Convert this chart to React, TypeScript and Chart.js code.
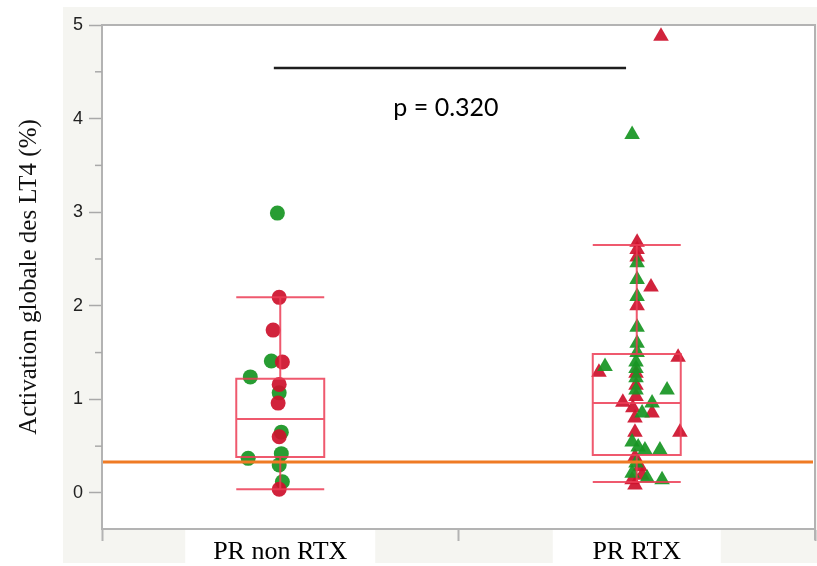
import React, { useEffect, useRef } from 'react';
import { Chart, registerables } from 'chart.js';
Chart.register(...registerables);

const categories = ['PR non RTX', 'PR RTX'];
const yTicks = [0, 1, 2, 3, 4, 5];
const yMinorTicks = [0.5, 1.5, 2.5, 3.5, 4.5];
const yMin = -0.385;
const yMax = 5;
const yTitle = 'Activation globale des LT4 (%)';

// PR non RTX (circles)
const nonRtxGreenValues = [2.99, 1.41, 1.24, 1.07, 0.65, 0.42, 0.37, 0.3, 0.12];
const nonRtxGreenJitter = [-0.008, -0.025, -0.084, -0.003, 0.003, 0.003, -0.09, -0.003, 0.006];
const nonRtxRedValues = [2.09, 1.74, 1.4, 1.16, 0.96, 0.6, 0.04];
const nonRtxRedJitter = [-0.003, -0.02, 0.006, -0.003, -0.006, -0.003, -0.003];

// PR RTX (triangles)
const rtxRedValues = [4.88, 2.68, 2.6, 2.52, 2.2, 2.0, 1.45, 1.29, 1.28, 1.15, 1.03, 0.97, 0.91, 0.855, 0.8, 0.65, 0.65, 0.385, 0.28, 0.19, 0.14, 0.085];
const rtxRedJitter = [0.068, 0.001, 0.001, 0.001, 0.04, 0.001, 0.116, -0.106, -0.002, -0.002, -0.002, -0.039, -0.011, 0.043, -0.005, -0.005, 0.121, -0.005, 0.009, 0.015, -0.013, -0.005];
const rtxGreenValues = [3.83, 2.46, 2.28, 2.1, 1.77, 1.6, 1.5, 1.4, 1.35, 1.33, 1.23, 1.1, 1.1, 0.96, 0.855, 0.545, 0.49, 0.46, 0.46, 0.32, 0.21, 0.16, 0.14];
const rtxGreenJitter = [-0.013, 0.001, 0.001, 0.001, 0.001, 0.001, 0.001, -0.002, -0.089, -0.002, -0.002, -0.002, 0.085, 0.043, 0.015, -0.013, 0.004, 0.023, 0.065, -0.002, -0.013, 0.029, 0.071];

// Box plot statistics per category
const boxLow = [0.04, 0.118];
const boxQ1 = [0.385, 0.405];
const boxMedian = [0.79, 0.96];
const boxQ3 = [1.22, 1.485];
const boxHigh = [2.09, 2.65];

const referenceValue = 0.33;
const sigBarValue = 4.54;
const sigBarFrom = 0.482;
const sigBarTo = 1.47;
const pLabel = 'p = 0.320';

const RED = 'rgba(205, 18, 45, 0.93)';
const GREEN = 'rgba(24, 150, 36, 0.93)';
const BOX = 'rgba(236, 60, 85, 0.85)';
const AXIS_GRAY = '#b3b3b3';

const toPoints = (vals: number[], jit: number[], cat: number) =>
  vals.map((v, i) => ({ x: cat + 0.5 + jit[i], y: v }));

const decorPlugin = {
  id: 'decor',
  beforeDraw(chart: any) {
    const { ctx, chartArea: a, width, height } = chart;
    ctx.save();
    ctx.fillStyle = '#ffffff';
    ctx.fillRect(0, 0, width, height);
    ctx.fillStyle = '#f5f5f1';
    ctx.fillRect(63, 7, width - 63, 556);
    ctx.fillStyle = '#ffffff';
    ctx.fillRect(a.left, a.top, a.right - a.left, a.bottom - a.top);
    // white label panels
    const xs = chart.scales.x;
    [0, 1].forEach((c) => {
      const cx = xs.getPixelForValue(c + 0.5);
      const hw = c === 0 ? 95 : 84;
      ctx.fillRect(cx - hw, a.bottom + 1, hw * 2, height - a.bottom);
    });
    ctx.restore();
  },
  afterDatasetsDraw(chart: any) {
    const { ctx, chartArea: a } = chart;
    const xs = chart.scales.x;
    const ys = chart.scales.y;
    ctx.save();
    // box plots
    const half = 0.1234;
    ctx.strokeStyle = BOX;
    ctx.lineWidth = 2;
    for (let c = 0; c < categories.length; c++) {
      const cx = xs.getPixelForValue(c + 0.5);
      const l = xs.getPixelForValue(c + 0.5 - half);
      const r = xs.getPixelForValue(c + 0.5 + half);
      const q1 = ys.getPixelForValue(boxQ1[c]);
      const q3 = ys.getPixelForValue(boxQ3[c]);
      const md = ys.getPixelForValue(boxMedian[c]);
      const lo = ys.getPixelForValue(boxLow[c]);
      const hi = ys.getPixelForValue(boxHigh[c]);
      ctx.beginPath();
      ctx.rect(l, q3, r - l, q1 - q3);
      ctx.moveTo(l, md); ctx.lineTo(r, md);
      ctx.moveTo(cx, q3); ctx.lineTo(cx, hi);
      ctx.moveTo(cx, q1); ctx.lineTo(cx, lo);
      ctx.moveTo(l, hi); ctx.lineTo(r, hi);
      ctx.moveTo(l, lo); ctx.lineTo(r, lo);
      ctx.stroke();
    }
    // reference line
    const ry = ys.getPixelForValue(referenceValue);
    ctx.strokeStyle = '#ef7b24';
    ctx.lineWidth = 3;
    ctx.beginPath();
    ctx.moveTo(a.left + 1, ry);
    ctx.lineTo(a.right - 2, ry);
    ctx.stroke();
    // frame top/right
    ctx.strokeStyle = AXIS_GRAY;
    ctx.lineWidth = 2;
    ctx.beginPath();
    ctx.moveTo(a.left, a.top);
    ctx.lineTo(a.right, a.top);
    ctx.lineTo(a.right, a.bottom + 11);
    ctx.stroke();
    // minor ticks
    ctx.lineWidth = 1.5;
    ctx.strokeStyle = '#a9a9a9';
    yMinorTicks.forEach((v) => {
      const py = ys.getPixelForValue(v);
      ctx.beginPath();
      ctx.moveTo(a.left - 7, py);
      ctx.lineTo(a.left, py);
      ctx.stroke();
    });
    // significance bar
    const by = ys.getPixelForValue(sigBarValue);
    const bx1 = xs.getPixelForValue(sigBarFrom);
    const bx2 = xs.getPixelForValue(sigBarTo);
    ctx.strokeStyle = '#1e1e1e';
    ctx.lineWidth = 2.5;
    ctx.beginPath();
    ctx.moveTo(bx1, by);
    ctx.lineTo(bx2, by);
    ctx.stroke();
    ctx.fillStyle = '#000';
    ctx.font = '25px Lato, "Open Sans", sans-serif';
    ctx.textAlign = 'center';
    ctx.textBaseline = 'middle';
    ctx.fillText(pLabel, (bx1 + bx2) / 2 - 4, by + 40);
    ctx.restore();
  },
};

export default function App() {
  const ref = useRef<HTMLCanvasElement | null>(null);
  useEffect(() => {
    if (!ref.current) return;
    const chart = new Chart(ref.current, {
      type: 'scatter',
      data: {
        datasets: [
          {
            label: 'non RTX red',
            data: toPoints(nonRtxRedValues, nonRtxRedJitter, 0),
            pointStyle: 'circle',
            pointRadius: 7.5,
            backgroundColor: RED,
            borderWidth: 0,
          },
          {
            label: 'non RTX green',
            data: toPoints(nonRtxGreenValues, nonRtxGreenJitter, 0),
            pointStyle: 'circle',
            pointRadius: 7.5,
            backgroundColor: GREEN,
            borderWidth: 0,
          },
          {
            label: 'RTX green',
            data: toPoints(rtxGreenValues, rtxGreenJitter, 1),
            pointStyle: 'triangle',
            pointRadius: 9,
            backgroundColor: GREEN,
            borderWidth: 0,
          },
          {
            label: 'RTX red',
            data: toPoints(rtxRedValues, rtxRedJitter, 1),
            pointStyle: 'triangle',
            pointRadius: 9,
            backgroundColor: RED,
            borderWidth: 0,
          },
        ],
      },
      options: {
        responsive: false,
        animation: false,
        events: [],
        layout: { autoPadding: false, padding: { top: 25, right: 2, left: 0, bottom: 0 } },
        plugins: { legend: { display: false }, tooltip: { enabled: false } },
        scales: {
          x: {
            type: 'linear',
            min: 0,
            max: 2,
            afterBuildTicks: (s: any) => {
              s.ticks = [0, 0.5, 1, 1.5, 2].map((v) => ({ value: v }));
            },
            afterFit: (s: any) => {
              s.height = 37;
              s.paddingLeft = 0;
              s.paddingRight = 0;
            },
            ticks: {
              autoSkip: false,
              maxRotation: 0,
              padding: -4,
              color: '#000',
              font: { family: '"Liberation Serif", serif', size: 26 },
              callback: (v: any) => (v === 0.5 ? categories[0] : v === 1.5 ? categories[1] : ''),
            },
            grid: {
              drawOnChartArea: false,
              tickLength: 12,
              tickWidth: 2,
              tickColor: (c: any) => (c.tick && Number.isInteger(c.tick.value) ? AXIS_GRAY : 'rgba(0,0,0,0)'),
            },
            border: { color: AXIS_GRAY, width: 2 },
          },
          y: {
            type: 'linear',
            min: yMin,
            max: yMax,
            afterBuildTicks: (s: any) => {
              s.ticks = yTicks.map((v) => ({ value: v }));
            },
            afterFit: (s: any) => {
              s.width = 102;
            },
            ticks: {
              padding: 6,
              color: '#222',
              font: { family: '"Liberation Sans", Arial, sans-serif', size: 18 },
              callback: (v: any) => String(v),
            },
            grid: {
              drawOnChartArea: false,
              tickLength: 13,
              tickWidth: 1.5,
              tickColor: '#a9a9a9',
            },
            border: { color: AXIS_GRAY, width: 2 },
            title: {
              display: true,
              text: yTitle,
              color: '#111',
              font: { family: '"Liberation Serif", serif', size: 25 },
              padding: { top: 14, bottom: 0 },
            },
          },
        },
      },
      plugins: [decorPlugin],
    });
    return () => chart.destroy();
  }, []);
  return (
    <div style={{ position: 'absolute', left: 0, top: 0, width: 817, height: 566 }}>
      <canvas ref={ref} width={817} height={566} style={{ display: 'block' }} />
    </div>
  );
}
